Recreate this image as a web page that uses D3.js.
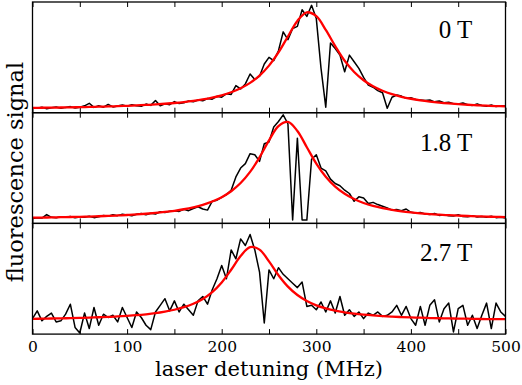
<!DOCTYPE html>
<html>
<head>
<meta charset="utf-8">
<script src="https://cdn.jsdelivr.net/npm/d3@7"></script>
<style>
  body { margin: 0; background: #fff; }
  svg { display: block; }
</style>
</head>
<body>
<svg id="chart"></svg>
<script>
// measured fluorescence, one value every 5 MHz from 0 to 500
var traceStep = 5
var trace0T = [
  0.045,0.040,0.050,0.035,0.045,0.052,0.040,0.048,0.055,0.042,
  0.050,0.062,0.085,0.048,0.062,0.050,0.075,0.052,0.060,0.070,
  0.058,0.072,0.062,0.058,0.078,0.066,0.110,0.062,0.080,0.072,
  0.100,0.082,0.090,0.105,0.098,0.115,0.108,0.128,0.122,0.148,
  0.140,0.172,0.165,0.245,0.215,0.260,0.350,0.300,0.330,0.440,
  0.500,0.470,0.560,0.730,0.660,0.760,0.780,0.930,0.870,0.970,
  0.850,0.400,0.050,0.630,0.580,0.520,0.370,0.520,0.460,0.400,
  0.320,0.250,0.230,0.200,0.180,0.040,0.140,0.160,0.150,0.130,
  0.135,0.120,0.115,0.110,0.115,0.098,0.105,0.090,0.095,0.082,
  0.078,0.088,0.072,0.066,0.080,0.065,0.058,0.070,0.055,0.062,
  0.060]
var trace18T = [
  0.045,0.050,0.048,0.080,0.055,0.052,0.060,0.055,0.062,0.050,
  0.058,0.055,0.065,0.052,0.060,0.072,0.065,0.078,0.070,0.082,
  0.075,0.068,0.082,0.090,0.078,0.092,0.085,0.105,0.098,0.110,
  0.115,0.108,0.128,0.115,0.135,0.150,0.130,0.120,0.200,0.210,
  0.235,0.260,0.300,0.420,0.500,0.540,0.630,0.620,0.560,0.720,
  0.735,0.870,0.920,0.980,0.900,0.030,0.770,0.030,0.030,0.580,
  0.620,0.500,0.475,0.400,0.360,0.340,0.300,0.270,0.200,0.240,
  0.230,0.180,0.190,0.170,0.155,0.140,0.120,0.125,0.115,0.130,
  0.100,0.095,0.098,0.085,0.080,0.090,0.072,0.078,0.070,0.066,
  0.078,0.062,0.060,0.070,0.058,0.062,0.055,0.065,0.052,0.055,
  0.048]
var trace27T = [
  0.14,0.21,0.12,0.16,0.19,0.11,0.12,0.18,0.27,0.06,
  0.01,0.19,0.05,0.24,0.08,0.18,0.15,0.17,0.11,0.24,
  0.15,0.06,0.20,0.15,0.08,0.04,0.20,0.26,0.32,0.21,
  0.30,0.20,0.27,0.22,0.17,0.30,0.34,0.27,0.40,0.50,
  0.62,0.50,0.76,0.68,0.86,0.80,0.90,0.76,0.56,0.10,
  0.58,0.50,0.60,0.54,0.50,0.46,0.42,0.47,0.25,0.26,
  0.22,0.29,0.20,0.30,0.19,0.34,0.17,0.22,0.16,0.20,
  0.14,0.19,0.17,0.20,0.16,0.17,0.20,0.26,0.17,0.25,
  0.14,0.08,0.25,0.08,0.26,0.31,0.11,0.23,0.28,0.02,
  0.23,0.26,0.08,0.17,0.05,0.17,0.28,0.05,0.28,0.20,
  0.16]

// fitted curves, one value every 10 MHz
var fitStep = 10
var fit0T = [
  0.0437,0.0447,0.0458,0.0471,0.0486,0.0502,0.0520,0.0541,0.0564,0.0591,
  0.0622,0.0658,0.0700,0.0749,0.0808,0.0878,0.0963,0.1068,0.1198,0.1363,
  0.1572,0.1846,0.2208,0.2693,0.3353,0.4251,0.5439,0.6881,0.8292,0.9065,
  0.8717,0.7477,0.6023,0.4690,0.3681,0.2933,0.2384,0.1978,0.1673,0.1440,
  0.1260,0.1117,0.1003,0.0910,0.0834,0.0771,0.0719,0.0674,0.0636,0.0602,
  0.0574]
var fit18T = [
  0.0515,0.0528,0.0542,0.0559,0.0577,0.0598,0.0621,0.0648,0.0680,0.0716,
  0.0759,0.0810,0.0870,0.0943,0.1032,0.1141,0.1278,0.1453,0.1678,0.1974,
  0.2369,0.2907,0.3645,0.4652,0.5971,0.7498,0.8795,0.9164,0.8348,0.6881,
  0.5407,0.4213,0.3321,0.2671,0.2197,0.1846,0.1581,0.1378,0.1220,0.1094,
  0.0994,0.0912,0.0844,0.0788,0.0741,0.0701,0.0667,0.0637,0.0612,0.0589,
  0.0569]
var fit27T = [
  0.138,0.139,0.141,0.142,0.144,0.146,0.149,0.152,0.155,0.160,
  0.165,0.171,0.179,0.189,0.203,0.220,0.243,0.274,0.318,0.380,
  0.467,0.581,0.705,0.785,0.763,0.657,0.532,0.429,0.353,0.299,
  0.260,0.233,0.212,0.197,0.185,0.176,0.169,0.163,0.158,0.154,
  0.151,0.148,0.145,0.143,0.142,0.140,0.139,0.137,0.136,0.135,
  0.135]

var fieldLabels = ["0 T", "1.8 T", "2.7 T"]
var xTickLabels = [0, 100, 200, 300, 400, 500]
var xMinorTicks = [0, 50, 100, 150, 200, 250, 300, 350, 400, 450, 500]

var panels = [
  {label: fieldLabels[0], trace: trace0T, fit: fit0T},
  {label: fieldLabels[1], trace: trace18T, fit: fit18T},
  {label: fieldLabels[2], trace: trace27T, fit: fit27T}
]

var width = 522, height = 385
var plotLeft = 32.5, plotRight = 505.5, plotTop = 2
var panelH = 110.7
var labelOffsets = [35.5, 38.5, 38]

var x = d3.scaleLinear()
    .domain([0, 500])
    .range([plotLeft, plotRight])

var svg = d3.select("#chart")
    .attr("width", width)
    .attr("height", height)

panels.forEach(function(p, i) {
    var top = plotTop + i * panelH
    var y = d3.scaleLinear()
        .domain([0, 1])
        .range([top + panelH, top])

    var g = svg.append("g")

    // inward ticks on top and bottom edge
    g.append("g")
        .attr("transform", "translate(0," + (top + panelH) + ")")
        .call(d3.axisBottom(x).tickValues(xMinorTicks).tickSizeInner(-5).tickSizeOuter(0).tickFormat(""))
    g.append("g")
        .attr("transform", "translate(0," + top + ")")
        .call(d3.axisTop(x).tickValues(xMinorTicks).tickSizeInner(-5).tickSizeOuter(0).tickFormat(""))
    g.selectAll(".domain").remove()
    g.selectAll(".tick line").attr("stroke", "black").attr("stroke-width", 1)

    var traceLine = d3.line()
        .x(function(d, j) { return x(j * traceStep) })
        .y(function(d) { return y(d) })
    var fitLine = d3.line()
        .curve(d3.curveCatmullRom)
        .x(function(d, j) { return x(j * fitStep) })
        .y(function(d) { return y(d) })

    g.append("path")
        .datum(p.trace)
        .attr("d", traceLine)
        .attr("fill", "none")
        .attr("stroke", "black")
        .attr("stroke-width", 1.5)
        .attr("stroke-linejoin", "round")

    g.append("path")
        .datum(p.fit)
        .attr("d", fitLine)
        .attr("fill", "none")
        .attr("stroke", "#ff0000")
        .attr("stroke-width", 2.3)

    // panel frame
    g.append("rect")
        .attr("x", plotLeft)
        .attr("y", top)
        .attr("width", plotRight - plotLeft)
        .attr("height", panelH)
        .attr("fill", "none")
        .attr("stroke", "black")
        .attr("stroke-width", 1.3)

    g.append("text")
        .attr("x", x(465))
        .attr("y", top + labelOffsets[i])
        .attr("text-anchor", "end")
        .attr("font-family", "'Liberation Serif', 'Times New Roman', serif")
        .attr("font-size", "25px")
        .text(p.label)
})

// tick labels under the last panel
var labelAxis = svg.append("g")
    .attr("transform", "translate(0," + (plotTop + 3 * panelH) + ")")
    .call(d3.axisBottom(x).tickValues(xTickLabels).tickSize(0).tickFormat(d3.format("d")))
labelAxis.select(".domain").remove()
labelAxis.selectAll("text")
    .attr("y", 18)
    .attr("dy", 0)
    .attr("fill", "black")
    .attr("font-family", "'DejaVu Serif', serif")
    .attr("font-size", "15.5px")

svg.append("text")
    .attr("x", (plotLeft + plotRight) / 2)
    .attr("y", 376)
    .attr("text-anchor", "middle")
    .attr("font-family", "'DejaVu Serif', serif")
    .attr("font-size", "21px")
    .text("laser detuning (MHz)")

svg.append("text")
    .attr("transform", "translate(23," + 172 + ") rotate(-90)")
    .attr("text-anchor", "middle")
    .attr("font-family", "'DejaVu Serif', serif")
    .attr("font-size", "22.5px")
    .text("fluorescence signal")
</script>
</body>
</html>
